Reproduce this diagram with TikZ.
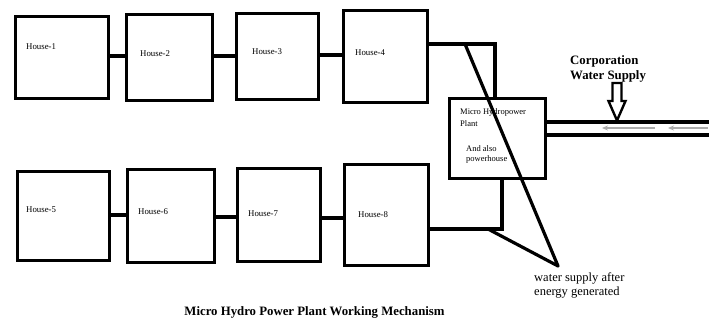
\documentclass[tikz,border=0pt]{standalone}
\usepackage{fontspec}
\setmainfont{Liberation Serif}
\usetikzlibrary{arrows.meta}
\begin{document}
\begin{tikzpicture}[x=1pt,y=-1pt,
  house/.style={draw,line width=3.2pt,inner sep=0pt,outer sep=0pt},
  pipe/.style={line width=3.2pt},
  lbl/.style={anchor=base west,inner sep=0pt,font=\fontsize{8.8}{10}\selectfont},
  plbl/.style={anchor=base west,inner sep=0pt,font=\fontsize{8.5}{10}\selectfont},
  big/.style={anchor=base west,inner sep=0pt,align=left,font=\bfseries\fontsize{12.8}{15}\selectfont},
  flowarrow/.style={draw=gray!65,line width=1.1pt,-{Stealth[length=6pt,width=5pt]}}]
\useasboundingbox (0,0) rectangle (709,320);
% houses
\node[house,minimum width=93pt,minimum height=82pt] (h1) at (62,57.5) {};
\node[house,minimum width=86pt,minimum height=86pt] (h2) at (169.5,57.5) {};
\node[house,minimum width=82pt,minimum height=86pt] (h3) at (277.5,56.5) {};
\node[house,minimum width=84pt,minimum height=92pt] (h4) at (385.5,56.5) {};
\node[house,minimum width=92pt,minimum height=89pt] (h5) at (63.5,216) {};
\node[house,minimum width=87pt,minimum height=93pt] (h6) at (171,216) {};
\node[house,minimum width=83pt,minimum height=93pt] (h7) at (279,215) {};
\node[house,minimum width=84pt,minimum height=101pt] (h8) at (386.5,215) {};
\node[house,minimum width=96pt,minimum height=80pt] (plant) at (497.5,138.5) {};
% labels
\node[lbl] (t1) at (26,50) {House-1};
\node[lbl] (t2) at (140,57) {House-2};
\node[lbl] (t3) at (252,55) {House-3};
\node[lbl] (t4) at (355,56) {House-4};
\node[lbl] (t5) at (26,213) {House-5};
\node[lbl] (t6) at (138,215) {House-6};
\node[lbl] (t7) at (248,217) {House-7};
\node[lbl] (t8) at (358,218) {House-8};
\node[plbl] (pl1) at (460,115) {Micro Hydropower};
\node[plbl] (pl2) at (460,127) {Plant};
\node[plbl] (pl3) at (466,152) {And also};
\node[plbl] (pl4) at (466,162) {powerhouse};
% house connectors
\draw[pipe] (h1.east |- 0,56) -- (h2.west |- 0,56);
\draw[pipe] (h2.east |- 0,56) -- (h3.west |- 0,56);
\draw[pipe] (h3.east |- 0,55) -- (h4.west |- 0,55);
\draw[pipe] (h5.east |- 0,215) -- (h6.west |- 0,215);
\draw[pipe] (h6.east |- 0,217) -- (h7.west |- 0,217);
\draw[pipe] (h7.east |- 0,218) -- (h8.west |- 0,218);
% plant pipes
\coordinate (p1) at (495,44);
\coordinate (p2) at (502,229);
\draw[pipe] (h4.east |- p1) -- (p1) -- (p1 |- plant.north);
\draw[pipe] (plant.south -| p2) -- (p2) -- (h8.east |- p2);
% pointer lines
\coordinate (d1) at (465,44);
\coordinate (d2) at (488,229);
\coordinate (tip) at (558,266);
\draw[pipe,line cap=round] (d1) -- (tip);
\draw[pipe,line cap=round] (d2) -- (tip);
% corporation supply pipe
\coordinate (e1) at (709,122);
\coordinate (e2) at (709,135);
\draw[pipe] (plant.east |- e1) -- (e1);
\draw[pipe] (plant.east |- e2) -- (e2);
\draw[flowarrow] (655,128) -- (602,128);
\draw[flowarrow] (708,128) -- (668,128);
% block arrow
\draw[line width=2.4pt,line join=miter] (612.5,83) -- (621.5,83) -- (621.5,101) -- (625.5,101) -- (617,120.5) -- (608.5,101) -- (612.5,101) -- cycle;
% texts
\node[big] (corp) at (570,80) {Corporation\\Water Supply};
\node[anchor=base west,inner sep=0pt,align=left,font=\fontsize{12.5}{14}\selectfont] (ws) at (534,295) {water supply after\\energy generated};
\node[anchor=base,inner sep=0pt,font=\bfseries\fontsize{12.8}{15}\selectfont] (title) at (314.5,315) {Micro Hydro Power Plant Working Mechanism};
\end{tikzpicture}
\end{document}
